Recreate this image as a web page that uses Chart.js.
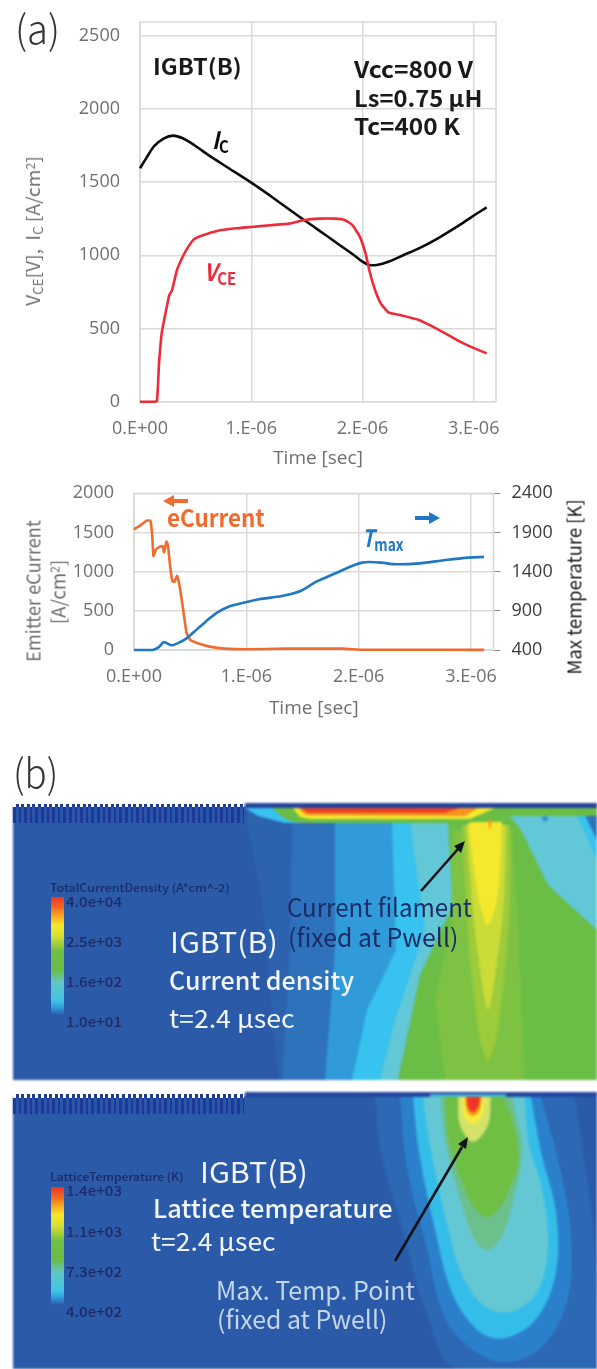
<!DOCTYPE html>
<html>
<head>
<meta charset="utf-8">
<script src="https://cdn.jsdelivr.net/npm/chart.js@4"></script>
<style>
body { margin: 0; background: #fff; }
#page { position: relative; width: 597px; height: 1369px; overflow: hidden; font-family: "Noto Sans CJK JP", "Open Sans", sans-serif; }
canvas { position: absolute; }
.plot { filter: blur(0.5px); }
.field { filter: blur(1.2px); }
.note { position: absolute; white-space: nowrap; line-height: 1; filter: blur(0.4px); }
.note sub { font-size: 0.7em; vertical-align: -0.25em; line-height: 0; }
.note sup { font-size: 0.65em; vertical-align: 0.45em; line-height: 0; }
.comb { position: absolute; left: 13px; width: 231px; filter: blur(0.6px); }
.bar { position: absolute; left: 51px; width: 13px; filter: blur(0.5px);
  background: linear-gradient(#ee3524 0%, #f26a25 9%, #f7a11f 15%, #f6e82b 24%, #d8df35 33%, #6fbf45 46%, #6abd45 62%, #62c7c2 72%, #3fc3e6 88%, #2f9bdc 94%, #2a5aa8 100%); }
svg { position: absolute; left: 0; top: 0; }
</style>
</head>
<body>
<div id="page">
  <canvas id="chartA" class="plot" width="597" height="470" style="left:0;top:0"></canvas>
  <canvas id="chartB" class="plot" width="597" height="260" style="left:0;top:470px"></canvas>
  <canvas id="fieldCurrent" class="field" width="584" height="277" style="left:13px;top:803px"></canvas>
  <canvas id="fieldTemp" class="field" width="584" height="277" style="left:13px;top:1092px"></canvas>
  <div class="comb" style="top:807px;height:16px;background:repeating-linear-gradient(90deg,#1b3a96 0,#1b3a96 2.6px,#2b55ab 2.6px,#2b55ab 5.6px)"></div>
  <div class="comb" style="top:804px;height:3px;background:repeating-linear-gradient(90deg,#fff 0,#fff 2.6px,#1f3c94 2.6px,#1f3c94 5.6px)"></div>
  <div class="comb" style="top:1098px;height:16px;background:repeating-linear-gradient(90deg,#1b3a96 0,#1b3a96 2.6px,#2b55ab 2.6px,#2b55ab 5.6px)"></div>
  <div class="comb" style="top:1094px;height:4px;background:repeating-linear-gradient(90deg,#fff 0,#fff 2.6px,#1f3c94 2.6px,#1f3c94 5.6px)"></div>
  <div class="bar" style="top:897px;height:118px"></div>
  <div class="bar" style="top:1187px;height:118px"></div>
  <svg width="597" height="1369">
    <path d="M188 501H172" stroke="#f26b2e" stroke-width="4"/><path d="M163 501l11-6v12z" fill="#f26b2e"/>
    <path d="M415 518H430" stroke="#1f78c1" stroke-width="4"/><path d="M440 518l-11-6v12z" fill="#1f78c1"/>
    <path d="M421 891L458 849" stroke="#10121c" stroke-width="2.6"/><path d="M465 841l-11 5 7 7z" fill="#10121c"/>
    <path d="M395 1261L462 1147" stroke="#10121c" stroke-width="2.6"/><path d="M468 1137l-10 7 8 5z" fill="#10121c"/>
  </svg>
</div>
<script>
// time in microseconds
const timeIc = [0, 0.058, 0.127, 0.212, 0.298, 0.384, 0.486, 0.623, 0.795, 1.0, 1.205, 1.41, 1.582, 1.753, 1.925, 1.993, 2.06, 2.13, 2.233, 2.37, 2.507, 2.678, 2.85, 2.986, 3.116];
const valuesIc = [1594, 1665, 1745, 1797, 1817, 1799, 1753, 1680, 1596, 1496, 1388, 1275, 1184, 1092, 1000, 960, 934, 934, 956, 1002, 1047, 1116, 1195, 1264, 1327];
const timeVce = [0, 0.13, 0.152, 0.163, 0.171, 0.195, 0.229, 0.264, 0.288, 0.332, 0.384, 0.435, 0.486, 0.572, 0.692, 0.863, 1.0, 1.171, 1.342, 1.479, 1.616, 1.753, 1.839, 1.908, 1.976, 2.027, 2.068, 2.113, 2.164, 2.233, 2.336, 2.507, 2.678, 2.85, 2.986, 3.116];
const valuesVce = [0, 0, 5, 130, 262, 467, 603, 729, 760, 899, 990, 1059, 1109, 1138, 1166, 1184, 1193, 1205, 1216, 1241, 1250, 1250, 1241, 1207, 1127, 1013, 877, 763, 672, 610, 592, 558, 494, 421, 371, 330];
const timeEmitter = [0, 0.061, 0.112, 0.146, 0.163, 0.173, 0.197, 0.231, 0.255, 0.268, 0.289, 0.302, 0.322, 0.343, 0.36, 0.384, 0.407, 0.434, 0.468, 0.502, 0.57, 0.672, 0.808, 1.01, 1.35, 1.86, 2.03, 2.37, 3.116];
const valuesEmitter = [1540, 1596, 1651, 1651, 1447, 1200, 1285, 1319, 1328, 1247, 1383, 1340, 1064, 872, 872, 945, 808, 553, 213, 128, 85, 43, 17, 9, 17, 17, 4, 4, 2];
const timeTmax = [0, 0.163, 0.214, 0.265, 0.282, 0.333, 0.4, 0.468, 0.536, 0.638, 0.74, 0.842, 0.978, 1.113, 1.317, 1.487, 1.623, 1.792, 1.962, 2.03, 2.098, 2.2, 2.335, 2.539, 2.777, 2.98, 3.116];
const valuesTmax = [400, 400, 430, 502, 494, 460, 494, 549, 634, 762, 877, 953, 1004, 1047, 1089, 1157, 1272, 1379, 1485, 1515, 1523, 1515, 1494, 1506, 1549, 1579, 1587];

const timeTicks = [0, 1, 2, 3];
const timeTickLabels = ["0.E+00", "1.E-06", "2.E-06", "3.E-06"];
const ticksA = [0, 500, 1000, 1500, 2000, 2500];
const ticksEmitter = [0, 500, 1000, 1500, 2000];
const ticksTemp = [400, 900, 1400, 1900, 2400];

// contours of the two simulation maps, in picture pixels
const curBase = [[13, 806], [245, 806], [245, 803], [597, 803], [597, 1080], [13, 1080]];
const curBlue1 = [[247, 823], [262, 900], [278, 1080], [597, 1080], [597, 810], [247, 810]];
const curBlue2 = [[292, 823], [290, 950], [282, 1080], [597, 1080], [597, 810], [292, 810]];
const curBlue3 = [[335, 823], [335, 950], [325, 1080], [597, 1080], [597, 810], [335, 810]];
const curCyan = [[392, 823], [396, 950], [367, 1010], [352, 1080], [597, 1080], [597, 810], [392, 810]];
const curTeal = [[410, 823], [425, 930], [395, 1020], [380, 1080], [597, 1080], [597, 810], [410, 810]];
const curCorner1 = [[577, 815], [597, 860], [597, 815]];
const curCorner2 = [[585, 815], [597, 840], [597, 815]];
const curSpot = [[541, 818], [545, 822], [549, 818], [545, 816]];
const curGreen = [[448, 823], [453, 905], [420, 975], [398, 1080], [597, 1080], [597, 930], [548, 885], [520, 828], [502, 808], [448, 808]];
const curLight = [[452, 830], [452, 920], [435, 1000], [445, 1080], [525, 1080], [518, 920], [512, 830]];
const curSoft = [[462, 825], [466, 900], [470, 960], [480, 1040], [488, 1060], [496, 1040], [506, 960], [510, 900], [510, 825]];
const curPale = [[466, 825], [472, 900], [478, 955], [488, 1010], [498, 955], [504, 900], [506, 825]];
const curYellow = [[468, 822], [474, 870], [480, 905], [488, 925], [496, 905], [500, 870], [502, 822]];
const curStreak = [[488, 820], [490, 831], [492, 820]];
const curStrip = [[500, 808], [597, 808], [597, 816], [500, 816]];
const curTopCyan = [[245, 808], [258, 816], [285, 823], [470, 823], [470, 808]];
const curTopGreen = [[272, 808], [285, 819], [300, 823], [470, 823], [505, 808]];
const curTopYellow = [[293, 808], [300, 817], [310, 819], [470, 819], [495, 808]];
const curTopOrange = [[298, 808], [305, 815], [465, 816], [478, 808]];
const curTopRed = [[301, 808], [308, 813], [445, 813], [460, 808]];
const curCap = [[245, 803], [597, 803], [597, 808], [245, 808]];

const tempBase = [[13, 1096], [245, 1096], [245, 1092], [597, 1092], [597, 1369], [13, 1369]];
const tempRing1 = [[375, 1097], [381, 1152], [404, 1235], [426, 1312], [457, 1369], [597, 1369], [594, 1235], [575, 1097]];
const tempRing2 = [[400, 1097], [407, 1168], [426, 1245], [445, 1318], [476, 1352], [506, 1362], [541, 1348], [567, 1302], [571, 1235], [560, 1168], [541, 1097]];
const tempRing3 = [[413, 1097], [419, 1152], [434, 1225], [453, 1295], [480, 1332], [506, 1338], [537, 1318], [556, 1272], [556, 1212], [541, 1152], [531, 1097]];
const tempRing4 = [[423, 1097], [430, 1145], [445, 1215], [461, 1272], [483, 1305], [510, 1312], [537, 1292], [548, 1245], [541, 1185], [529, 1145], [525, 1097]];
const tempRing5 = [[440, 1097], [447, 1150], [462, 1205], [475, 1240], [487, 1250], [500, 1240], [512, 1205], [522, 1150], [512, 1097]];
const tempGreen = [[445, 1097], [449, 1142], [466, 1192], [476, 1210], [487, 1217], [498, 1210], [508, 1192], [518, 1162], [514, 1125], [503, 1097]];
const tempHalo = [[458, 1097], [460, 1125], [473, 1142], [488, 1125], [491, 1097]];
const tempYellow = [[462, 1097], [464, 1116], [473, 1124], [482, 1116], [485, 1097]];
const tempOrange = [[465, 1097], [467, 1111], [473, 1116], [479, 1111], [482, 1097]];
const tempRed = [[467, 1097], [468, 1107], [473, 1112], [478, 1107], [480, 1097]];
const tempCap = [[245, 1092], [597, 1092], [597, 1097], [245, 1097]];
const tempGlow = [[430, 1094], [506, 1094], [506, 1097], [430, 1097]];

const GREY = "#6f6f6f", GRID = "#d9d9d9", FONT = "'Open Sans', sans-serif";

function xy(xs, ys) { return xs.map((x, i) => ({ x: x, y: ys[i] })); }

function curve(xs, ys, color, axis, tension) {
    return { data: xy(xs, ys), showLine: true, borderColor: color, borderWidth: 2.6, pointRadius: 0, tension: tension, fill: false, yAxisID: axis, clip: false };
}

function fixedTicks(values) {
    return scale => { scale.ticks = values.map(v => ({ value: v })); };
}

const timeAxis = (height, padTick, titleGap) => ({
    type: "linear", min: 0, max: 3.2,
    afterBuildTicks: fixedTicks(timeTicks),
    afterFit: s => { s.height = height; s.paddingLeft = 0; s.paddingRight = 0; },
    grid: { color: GRID, lineWidth: 1.5, drawTicks: false },
    border: { display: false },
    ticks: { color: GREY, font: { family: FONT, size: 18 }, padding: padTick, maxRotation: 0, autoSkip: false, callback: (v, i) => timeTickLabels[i] },
    title: { display: true, text: "Time [sec]", color: GREY, font: { family: FONT, size: 19 }, padding: { top: 0, bottom: titleGap } }
});

const sideAxis = (width, lo, hi, values, padTick) => ({
    min: lo, max: hi,
    afterBuildTicks: fixedTicks(values),
    afterFit: s => { s.width = width; s.paddingTop = 0; s.paddingBottom = 0; },
    grid: { color: GRID, lineWidth: 1.5, drawTicks: false },
    border: { display: false },
    ticks: { color: GREY, font: { family: FONT, size: 18 }, padding: padTick, callback: v => String(v) }
});

const plotBox = {
    id: "plotBox",
    beforeDatasetsDraw(chart) {
        const a = chart.chartArea, c = chart.ctx;
        c.save();
        c.strokeStyle = GRID;
        c.lineWidth = 1.5;
        c.strokeRect(a.left, a.top, a.right - a.left, a.bottom - a.top);
        c.restore();
    }
};

new Chart("chartA", {
    type: "scatter",
    data: { datasets: [
        curve(timeVce, valuesVce, "#ee2b3b", "y", 0.15),
        curve(timeIc, valuesIc, "#0c0c0c", "y", 0.3)
    ] },
    options: {
        responsive: false, animation: false,
        layout: { padding: { top: 22, right: 101 } },
        plugins: { legend: { display: false }, tooltip: { enabled: false } },
        scales: {
            x: timeAxis(68.3, 16, 0),
            y: sideAxis(140, 0, 2593, ticksA, 20)
        }
    },
    plugins: [plotBox]
});

new Chart("chartB", {
    type: "scatter",
    data: { datasets: [
        curve(timeTmax, valuesTmax, "#1f78c1", "y1", 0.3),
        curve(timeEmitter, valuesEmitter, "#f26b2e", "y", 0.1)
    ] },
    options: {
        responsive: false, animation: false,
        layout: { padding: { top: 23.3, right: 3.5 } },
        plugins: { legend: { display: false }, tooltip: { enabled: false } },
        scales: {
            x: timeAxis(80, 16, 10),
            y: sideAxis(134, 0, 2000, ticksEmitter, 20),
            y1: {
                position: "right", min: 400, max: 2400,
                afterBuildTicks: fixedTicks(ticksTemp),
                afterFit: s => { s.width = 100; s.paddingTop = 0; s.paddingBottom = 0; },
                grid: { drawOnChartArea: false, color: "#8c8c8c", tickLength: 7 },
                border: { color: "#8c8c8c" },
                ticks: { color: "#3c3c3c", font: { family: FONT, size: 18 }, padding: 11, callback: v => String(v) }
            }
        }
    },
    plugins: [plotBox]
});

function region(points, color, tension) {
    return { data: points.map(p => ({ x: p[0], y: p[1] })), showLine: true, fill: "shape", backgroundColor: color, borderColor: color, borderWidth: 0, pointRadius: 0, tension: tension || 0 };
}

function drawField(id, yMin, yMax, layers) {
    const sets = layers.map((l, i) => Object.assign(region(l[0], l[1], l[2]), { order: layers.length - i }));
    new Chart(id, {
        type: "scatter",
        data: { datasets: sets },
        options: {
            responsive: false, animation: false,
            plugins: { legend: { display: false }, tooltip: { enabled: false } },
            scales: {
                x: { display: false, min: 13, max: 597 },
                y: { display: false, min: yMin, max: yMax, reverse: true }
            }
        }
    });
}

drawField("fieldCurrent", 803, 1080, [
    [curBase, "#2a5aa8"], [curBlue1, "#2c62ae"], [curBlue2, "#2e72bb"], [curBlue3, "#319bd9"],
    [curCyan, "#37c2ef"], [curTeal, "#62c7d6"], [curCorner1, "#37c2ef"], [curCorner2, "#2e72bb"], [curSpot, "#2e8fd0"],
    [curGreen, "#6abd45"], [curLight, "#7dc242"], [curSoft, "#9ccb3b", 0.3], [curPale, "#cbdb38", 0.3], [curYellow, "#f5e82d", 0.3],
    [curStreak, "#f7941d"], [curStrip, "#6abd45"], [curTopCyan, "#37c2ef"], [curTopGreen, "#6abd45"],
    [curTopYellow, "#f5e82d"], [curTopOrange, "#f7931e"], [curTopRed, "#ee4023"], [curCap, "#24449b"]
]);

drawField("fieldTemp", 1092, 1369, [
    [tempBase, "#2a5aa8"], [tempRing1, "#2c68b4", 0.35], [tempRing2, "#2b80cc", 0.35], [tempRing3, "#35bdea", 0.35],
    [tempRing4, "#64c8d4", 0.35], [tempRing5, "#6cc08c", 0.35], [tempGreen, "#6fbf45", 0.35], [tempHalo, "#d5e26a", 0.35],
    [tempYellow, "#f6ec3c", 0.35], [tempOrange, "#f7941d", 0.35], [tempRed, "#ee3524", 0.35], [tempCap, "#24479f"], [tempGlow, "#45b0d0"]
]);

// text: html, left x, centre y, target width, font size, colour, extra css
const DARK = "#1d2b66", WHITE = "#f2f6fb", PALE = "#c3d6ea";
const notes = [
    ["(a)", 15, 27, 45, 40, "#333", "font-weight:300"],
    ["(b)", 13, 771, 45, 40, "#333", "font-weight:300"],
    ["IGBT(B)", 153, 65, 89, 22, "#1a1a1a", "font-weight:700"],
    ["Vcc=800 V", 354, 68, 119, 23, "#1a1a1a", "font-weight:700"],
    ["Ls=0.75 μH", 354, 97, 128, 23, "#1a1a1a", "font-weight:700"],
    ["Tc=400 K", 354, 125, 106, 23, "#1a1a1a", "font-weight:700"],
    ["<i>I</i><sub>C</sub>", 212, 139, 17, 24, "#0c0c0c", "font-weight:700"],
    ["<i>V</i><sub>CE</sub>", 204, 271, 32, 24, "#ee2b3b", "font-weight:700"],
    ["eCurrent", 167, 517, 98, 24, "#f26b2e", "font-weight:700"],
    ["<i>T</i><sub>max</sub>", 362, 537, 42, 24, "#1f78c1", "font-weight:700"],
    ["TotalCurrentDensity (A*cm^-2)", 50, 887, 180, 11, DARK, "font-weight:500"],
    ["4.0e+04", 66, 901, 56, 14, DARK, "font-weight:500"],
    ["2.5e+03", 66, 941, 56, 14, DARK, "font-weight:500"],
    ["1.6e+02", 66, 981, 56, 14, DARK, "font-weight:500"],
    ["1.0e+01", 66, 1021, 56, 14, DARK, "font-weight:500"],
    ["IGBT(B)", 170, 940, 108, 29, WHITE, ""],
    ["Current density", 169, 979, 185, 25, WHITE, "font-weight:500"],
    ["t=2.4 μsec", 169, 1017, 126, 25, WHITE, ""],
    ["Current filament", 287, 906, 185, 25, DARK, ""],
    ["(fixed at Pwell)", 288, 936, 170, 25, DARK, ""],
    ["LatticeTemperature (K)", 50, 1176, 134, 11, DARK, "font-weight:500"],
    ["1.4e+03", 66, 1190, 56, 14, DARK, "font-weight:500"],
    ["1.1e+03", 66, 1231, 56, 14, DARK, "font-weight:500"],
    ["7.3e+02", 66, 1271, 56, 14, DARK, "font-weight:500"],
    ["4.0e+02", 66, 1311, 56, 14, DARK, "font-weight:500"],
    ["IGBT(B)", 200, 1170, 108, 29, WHITE, ""],
    ["Lattice temperature", 153, 1207, 239, 25, WHITE, "font-weight:500"],
    ["t=2.4 μsec", 151, 1240, 125, 25, WHITE, ""],
    ["Max. Temp. Point", 216, 1289, 199, 25, PALE, ""],
    ["(fixed at Pwell)", 217, 1318, 170, 25, PALE, ""]
];
// rotated axis titles: html, centre x, centre y, length, font size, colour
const sideTitles = [
    ["V<sub>CE</sub>[V],&nbsp; I<sub>C</sub> [A/cm<sup>2</sup>]", 32, 231, 150, 18, GREY],
    ["Emitter eCurrent", 32, 591, 142, 19, GREY],
    ["[A/cm<sup>2</sup>]", 57, 592, 64, 19, GREY],
    ["Max temperature [K]", 573, 587, 175, 19, "#1e1e1e"]
];

const page = document.getElementById("page");
function addNote(n, rotated) {
    const d = document.createElement("div");
    d.className = "note";
    d.innerHTML = n[0];
    d.style.fontSize = n[4] + "px";
    d.style.color = n[5];
    d.style.cssText += n[6] || "";
    page.appendChild(d);
    const fit = n[3] / d.offsetWidth;
    d.style.left = n[1] + "px";
    d.style.top = n[2] + "px";
    if (rotated) {
        d.style.transform = "translate(-50%,-50%) rotate(-90deg) scaleX(" + fit + ")";
    } else {
        d.style.transformOrigin = "left center";
        d.style.transform = "translateY(-50%) scaleX(" + fit + ")";
    }
}
notes.forEach(n => addNote(n, false));
sideTitles.forEach(n => addNote(n, true));
</script>
</body>
</html>
